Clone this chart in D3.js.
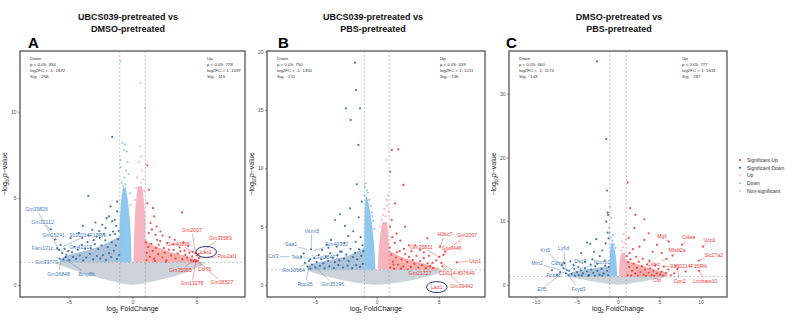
<!DOCTYPE html>
<html>
<head>
<meta charset="utf-8">
<script src="https://cdn.jsdelivr.net/npm/d3@7"></script>
<style>
  body { margin: 0; background: #fff; }
  text { font-family: "Liberation Sans", Arial, sans-serif; }
</style>
</head>
<body>
<svg id="chart" width="794" height="325"></svg>
<script>
// ---- data ----
// points are [log2FC, -log10 p]; envelopes are [x, yLow, yHigh]; bands are [y, xLeft, xRight]

const titlesA = ["UBCS039-pretreated vs", "DMSO-pretreated"];
const titlesB = ["UBCS039-pretreated vs", "PBS-pretreated"];
const titlesC = ["DMSO-pretreated vs", "PBS-pretreated"];

const countsA = { down: [934, 1672, 268], up: [778, 1097, 115] };
const countsB = { down: [750, 1301, 211], up: [539, 1211, 136] };
const countsC = { down: [660, 1174, 143], up: [777, 1631, 287] };

const xTicksA = [-5, 0, 5], yTicksA = [0, 5, 10];
const xTicksB = [-5, 0, 5], yTicksB = [0, 5, 10, 15, 20];
const xTicksC = [-10, -5, 0, 5, 10], yTicksC = [0, 10, 20, 30];

const legendItems = ["Significant Up", "Significant Down", "Up", "Down", "Non-significant"];

// panel A
const nsA = [[-5.9,1.2,1.3],[-5,0.95,1.3],[-4,0.72,1.3],[-3,0.48,1.3],[-2,0.28,1.3],[-1,0.1,1.3],[0,-0.05,1.3],
  [1,0.1,1.3],[2,0.26,1.3],[3,0.42,1.3],[4,0.66,1.3],[5,0.95,1.3],[5.6,1.2,1.3]];
const downBandA = [[1.3,-1,-0.08],[2.2,-1,-0.1],[3.2,-1,-0.15],[4.2,-0.97,-0.25],[5.0,-0.88,-0.38],[5.6,-0.75,-0.52]];
const upBandA = [[1.3,0.08,1],[2.2,0.1,1],[3.2,0.14,1],[4.2,0.2,0.97],[5.0,0.3,0.88],[5.7,0.42,0.76]];
const sigDownBandA = [[-5.6,1.3,1.5],[-5,1.3,1.75],[-4,1.3,1.9],[-3,1.3,2.1],[-2,1.3,2.4],[-1.3,1.3,2.7],[-1,1.3,2.8]];
const sigUpBandA = [[1,1.3,2.6],[1.5,1.3,2.3],[2.5,1.3,2.0],[3.5,1.3,1.8],[4.5,1.3,1.6],[5,1.3,1.45]];
const downPtsA = [[-0.8,8.2],[-0.6,8.1],[-0.65,7.8],[-0.45,7.7],[-0.95,7.2],[-0.5,6.6],[-0.65,6.2],[-0.3,6.4],
  [-0.94,12.9],[-0.85,5.9],[-0.2,5.3],[-0.92,6.8],[-0.38,7.1],[-0.72,5.7],[-0.15,4.6],[-0.55,5.8]];
const upPtsA = [[0.63,11.66],[0.98,10.2],[0.57,8.0],[0.5,7.1],[0.75,6.6],[0.35,6.2],[0.65,5.9],[0.55,5.5],
  [0.4,5.2],[0.85,6.1],[0.28,5.6],[0.92,5.4],[0.7,7.4],[0.2,4.9]];
const sigDownA = [[-1.59,8.54],[-3.46,5.14],[-1.2,4.8],[-1.72,4.53],[-1.21,4.24],[-1.85,3.95],[-2.37,3.47],[-2.1,3.28],
  [-1.59,3.66],[-3.88,3.41],[-2.03,3.85],[-4.19,2.99],[-3.93,2.7],[-3.15,3.18],[-2.81,2.79],[-4.84,2.7],[-5.63,2.31],
  [-5.89,2.12],[-5.5,1.83],[-5.23,1.6],[-6.4,3.2],[-6.05,2.62],[-5.75,2.02],[-1.08,3.12],[-1.27,3.41],[-1.36,2.93],
  [-1.52,3.08],[-1.77,2.88],[-2.24,2.95],[-2.56,2.71],[-3.04,2.58],[-1.13,2.64],[-1.31,2.27],[-1.46,1.97],[-1.62,2.46],
  [-1.94,2.18],[-2.13,2.57],[-2.42,2.28],[-2.68,2.06],[-2.95,2.35],[-3.27,2.12],[-3.52,2.47],[-3.71,2.09],[-3.97,2.31],
  [-4.28,2.03],[-4.55,2.21],[-4.73,1.88],[-5.02,1.95],[-5.31,2.08],[-1.04,1.72],[-1.22,1.49],[-1.67,1.61],[-1.83,1.83],
  [-2.07,1.44],[-2.31,1.71],[-2.52,1.52],[-2.79,1.66],[-3.08,1.47],[-3.33,1.78],[-3.62,1.58],[-3.86,1.41],[-4.12,1.69],
  [-4.41,1.5],[-4.66,1.62],[-4.94,1.43],[-5.17,1.74],[-5.42,1.47],[-5.7,1.52],[-2.9,3.6],[-2.6,3.1],[-3.45,2.85],[-1.4,3.75]];
const sigUpA = [[1.15,6.9],[1.28,5.49],[1.15,4.72],[1.6,4.43],[1.7,3.95],[3.88,4.18],[1.41,3.57],[1.27,2.99],[1.8,2.89],
  [1.88,3.37],[2.19,3.08],[2.71,2.41],[1.93,2.6],[2.05,2.31],[2.45,2.12],[3.23,2.02],[3.75,1.93],[4.14,1.73],[4.66,1.64],
  [4.92,1.83],[4.79,1.35],[5.05,1.7],[4.7,1.9],[5.15,1.78],[5.2,1.55],[4.85,1.45],[5.0,1.4],[4.95,1.35],[5.1,1.38],
  [1.06,2.45],[1.12,1.85],[1.22,2.18],[1.35,1.62],[1.47,2.37],[1.58,1.95],[1.69,1.51],[1.84,2.14],[2.01,1.77],[2.17,2.53],
  [2.33,1.58],[2.52,1.86],[2.66,1.42],[2.84,2.03],[3.02,1.69],[3.17,2.34],[3.36,1.52],[3.54,1.81],[3.69,2.16],[3.91,1.49],
  [4.07,1.98],[4.28,1.57],[4.44,1.86],[4.58,1.41],[3.3,2.6],[2.9,2.75],[2.35,2.85],[1.52,3.2],[4.35,2.25],[3.98,2.45],
  [1.1,1.42],[1.75,1.38],[2.6,1.33]];
// gene labels: [name, pointX, pointY, labelX, labelY]
const labelsDownA = [["Gm39826",-5.76,2.02,-7.5,4.39],["Gm32112",-6.4,3.2,-7.03,3.64],["Gm15241",-5.9,2.6,-6.17,2.89],
  ["9130214F15Rik",-5.45,2.2,-3.5,2.89],["Fam131c",-5.5,2.0,-7.03,2.14],["Gm42217",-5.3,1.9,-4.06,2.2],
  ["Gm33770",-5.8,1.6,-6.72,1.33],["Gm36848",-5.6,1.5,-5.78,0.64],["Bmp8b",-5.2,1.45,-3.59,0.64]];
const labelsUpA = [["Gm2007",4.92,1.83,4.66,3.14],["Gm33583",5.05,1.7,6.88,2.72],["Gm40895",4.7,1.9,3.6,2.37],
  ["Lao1",5.15,1.78,5.76,1.89],["Pou2af1",5.2,1.55,7.4,1.64],["Gm35955",4.85,1.45,3.75,0.87],
  ["Col79",5.0,1.4,5.63,0.91],["Gm13278",4.95,1.35,4.66,0.1],["Gm36527",5.1,1.38,7.0,0.13]];

// panel B
const nsB = [[-5.5,1.22,1.3],[-5,1.0,1.3],[-4,0.72,1.3],[-3,0.45,1.3],[-2,0.25,1.3],[-1,0.1,1.3],[0,-0.05,1.3],
  [1,0.1,1.3],[2,0.25,1.3],[3,0.45,1.3],[4,0.7,1.3],[5,1.0,1.3],[5.4,1.22,1.3]];
const downBandB = [[1.3,-1,-0.1],[3,-1,-0.18],[4.5,-1,-0.3],[5.8,-0.98,-0.45],[6.8,-0.95,-0.62],[7.6,-0.9,-0.78]];
const upBandB = [[1.3,0.1,1],[2.5,0.12,1],[3.5,0.2,0.98],[4.5,0.3,0.92],[5.4,0.45,0.82]];
const sigDownBandB = [[-5.6,1.3,1.6],[-5,1.3,1.9],[-4,1.3,2.1],[-3,1.3,2.3],[-2,1.3,2.6],[-1.3,1.3,3.0],[-1,1.3,3.2]];
const sigUpBandB = [[1,1.3,3.0],[1.5,1.3,2.6],[2.5,1.3,2.2],[3.5,1.3,1.9],[4.5,1.3,1.6],[5,1.3,1.45]];
const downPtsB = [[-0.95,8.4],[-0.8,8.1],[-0.7,7.9],[-0.88,8.7],[-0.6,7.3],[-0.5,6.8],[-0.4,6.2],[-0.3,5.5],[-0.2,4.8],
  [-0.98,7.7],[-0.35,5.9]];
const upPtsB = [[0.75,10.7],[0.9,7.7],[0.8,7.3],[0.6,6.5],[0.5,6.0],[0.85,6.8],[0.4,5.6],[0.7,5.9],[0.3,5.0],[0.95,6.3]];
const sigDownB = [[-1.75,19.05],[-1.67,16.7],[-2.48,15.14],[-1.35,15.14],[-2.1,14.14],[-1.48,12.0],[-1.61,8.63],
  [-2.15,6.57],[-2.96,6.06],[-3.36,5.57],[-2.56,5.06],[-1.21,7.14],[-3.69,3.86],[-4.03,3.43],[-3.23,3.28],[-2.96,2.86],
  [-5.3,3.06],[-5.36,2.2],[-1.45,5.8],[-1.9,4.6],[-1.3,4.1],[-2.3,4.2],[-1.7,3.7],[-2.6,3.6],[-1.15,3.4],[-1.08,2.9],
  [-1.25,2.5],[-1.42,3.05],[-1.58,2.2],[-1.74,2.75],[-1.93,2.4],[-2.12,3.1],[-2.27,2.05],[-2.46,2.6],[-2.64,2.25],
  [-2.83,2.85],[-3.01,2.1],[-3.18,2.55],[-3.37,1.95],[-3.55,2.35],[-3.74,2.7],[-3.92,2.05],[-4.11,2.4],[-4.3,1.85],
  [-4.48,2.2],[-4.67,2.55],[-4.85,1.95],[-5.04,2.3],[-5.22,1.75],[-5.45,2.05],[-5.6,1.6],[-1.12,1.8],[-1.35,1.55],
  [-1.66,1.7],[-1.98,1.45],[-2.35,1.65],[-2.72,1.5],[-3.1,1.7],[-3.46,1.45],[-3.83,1.6],[-4.2,1.42],[-4.58,1.62],
  [-4.95,1.48],[-5.35,1.4],[-5.8,1.9],[-6.1,2.4],[-5.9,2.7],[-4.4,3.0],[-3.9,3.2]];
const sigUpB = [[1.21,11.57],[1.74,11.63],[1.07,9.71],[2.15,8.57],[1.48,7.0],[2.28,5.0],[1.07,5.0],[1.21,5.57],[4.08,4.0],
  [5.1,3.28],[5.5,2.86],[5.37,2.57],[6.45,1.94],[5.05,2.4],[4.5,1.9],[5.2,1.9],[4.8,2.1],[4.2,2.5],[3.1,3.4],[2.6,3.4],
  [3.5,3.0],[1.05,3.2],[1.18,2.6],[1.3,2.0],[1.45,3.6],[1.55,2.35],[1.7,1.75],[1.85,2.9],[2.0,2.2],[2.15,1.6],[2.3,2.65],
  [2.45,1.95],[2.6,2.4],[2.75,1.55],[2.9,2.15],[3.05,1.8],[3.2,2.5],[3.35,1.5],[3.5,2.05],[3.65,1.7],[3.8,2.3],[3.95,1.45],
  [4.1,1.85],[4.3,1.6],[4.55,1.45],[1.1,1.5],[1.4,1.4],[1.95,1.4],[2.5,1.35],[1.25,4.1],[1.6,4.4],[1.9,3.8],[1.35,1.75],
  [1.62,2.8],[2.2,3.1],[2.8,2.9],[3.8,2.8],[5.3,1.6]];
const labelsDownB = [["Vstm5",-5.3,3.06,-5.24,4.63],["Saa1",-5.6,3.0,-6.91,3.49],["Gm40302",-5.1,2.95,-3.23,3.49],
  ["Col3",-7.0,2.42,-8.34,2.43],["Tsk1",-5.45,2.3,-6.45,2.37],["Gm28477",-5.25,2.5,-4.03,2.37],
  ["Gm10584",-5.6,1.9,-6.72,1.23],["Rpp25",-5.4,1.75,-5.78,0.09],["Gm35196",-5.1,1.7,-3.55,0.09]];
const labelsUpB = [["H2bc7",5.1,3.28,5.5,4.37],["Gm2007",5.5,2.86,7.3,4.28],["Gm35811",5.05,2.4,3.6,3.28],
  ["Gm3446",5.37,2.57,6.05,3.14],["Ucp1",6.45,1.94,7.93,2.08],["Gm21727",4.5,1.9,3.49,1.0],
  ["CDC14-897649",5.2,1.9,6.45,1.0],["Gm39442",5.3,1.6,6.85,-0.14],["Lao1",null,null,4.84,-0.2]];

// panel C
const nsC = [[-5.5,1.15,1.3],[-4,0.8,1.3],[-2,0.3,1.3],[0,-0.1,1.3],[2,0.3,1.3],[4,0.8,1.3],[5.5,1.15,1.3]];
const downBandC = [[1.3,-1,-0.1],[3,-1,-0.15],[4.5,-0.98,-0.25],[5.5,-0.95,-0.4],[6.5,-0.9,-0.6]];
const upBandC = [[1.3,0.1,1],[2.5,0.12,1],[3.8,0.22,0.95],[5.0,0.4,0.85]];
const sigDownBandC = [[-6,1.3,1.8],[-5,1.3,2.2],[-4,1.3,2.4],[-3,1.3,2.6],[-2,1.3,2.8],[-1,1.3,3.0]];
const sigUpBandC = [[1,1.3,3.8],[2,1.3,3.4],[3,1.3,3.0],[4,1.3,2.6],[5,1.3,2.2],[6,1.3,1.8]];
const downPtsC = [[-1.0,8.1],[-0.9,7.4],[-0.7,6.9],[-0.5,6.4],[-1.05,9.0],[-0.8,10.5],[-0.6,7.8],[-0.3,5.8],[-0.95,12.3]];
const upPtsC = [[0.8,6.5],[0.6,5.9],[0.95,7.2],[0.4,5.4],[0.7,8.0],[0.9,9.5],[0.5,6.8]];
const sigDownC = [[-2.55,35.06],[-1.42,22.87],[-1.33,14.8],[-1.26,11.35],[-1.2,11.0],[-1.42,9.94],[-3.76,6.64],
  [-3.36,6.44],[-2.63,7.17],[-4.45,4.97],[-2.9,5.2],[-1.9,5.4],[-5.78,3.66],[-5.4,3.14],[-6.8,3.1],[-6.2,2.3],[-1.25,8.2],
  [-1.15,7.3],[-1.5,6.5],[-2.2,4.5],[-3.1,4.0],[-4.0,3.6],[-2.5,3.3],[-1.6,3.8],[-1.1,2.8],[-1.3,2.2],[-1.55,3.0],
  [-1.75,1.8],[-2.0,2.5],[-2.25,1.6],[-2.5,2.2],[-2.75,2.9],[-3.0,1.9],[-3.25,2.4],[-3.5,1.55],[-3.75,2.1],[-4.0,2.6],
  [-4.25,1.8],[-4.5,2.3],[-4.75,1.5],[-5.0,2.0],[-5.3,2.5],[-5.6,1.7],[-5.9,2.2],[-6.3,1.8],[-6.6,2.6],[-7.0,2.0],
  [-1.2,1.5],[-1.9,1.4],[-2.8,1.45],[-3.6,1.4],[-4.4,1.45],[-5.2,1.4],[-6.0,1.5],[-7.4,1.6],[-8.0,2.3],[-6.5,3.4],
  [-4.8,2.8],[-3.3,3.2]];
const sigUpC = [[1.17,16.06],[1.49,12.04],[2.1,11.0],[3.19,10.3],[1.98,8.9],[3.71,8.1],[3.19,7.06],[4.72,6.28],[6.14,6.8],
  [7.76,6.28],[10.3,6.0],[9.77,3.82],[5.53,2.87],[7.0,3.0],[9.8,2.2],[1.3,7.4],[2.6,6.0],[1.8,5.6],[4.2,5.2],[5.3,5.0],
  [6.6,4.6],[5.9,4.1],[7.2,2.5],[8.2,2.1],[6.8,1.8],[1.05,4.5],[1.2,3.6],[1.35,2.8],[1.5,4.0],[1.7,2.2],[1.9,3.3],[2.1,1.8],
  [2.3,2.7],[2.5,3.6],[2.7,2.0],[2.9,2.9],[3.1,1.6],[3.3,2.4],[3.5,3.2],[3.7,1.9],[3.9,2.6],[4.1,1.5],[4.3,2.2],[4.5,3.0],
  [4.7,1.8],[4.9,2.5],[5.1,1.6],[5.3,2.1],[5.5,1.45],[5.8,1.9],[6.1,2.4],[6.4,1.5],[1.15,1.5],[1.6,1.45],[2.4,1.4],
  [3.4,1.4],[4.4,1.4],[1.4,5.0],[2.2,4.4],[3.0,4.1],[3.8,3.8]];
const labelsDownC = [["Krt5",-6.6,2.6,-8.8,5.5],["Ly6d",-6.3,2.5,-6.6,5.76],["Mirt2",-6.9,2.3,-9.8,3.4],
  ["Cldn4",-6.2,2.3,-7.3,3.4],["Dsg3",-6.0,2.2,-4.57,3.72],["Nccrp1",-4.9,2.4,-1.94,3.56],
  ["Foxa1",-6.5,2.0,-7.8,1.46],["Elf5",-6.8,1.9,-9.2,-0.68],["Fxyd3",-6.2,1.8,-4.78,-0.63]];
const labelsUpC = [["Mgll",6.14,6.8,5.33,7.7],["Cidea",7.76,6.28,8.56,7.5],["Ucp1",10.3,6.0,11.1,7.06],
  ["Mfsd2a",6.6,4.6,7.15,5.39],["Slc27a2",9.77,3.82,11.6,4.71],["Cidec",5.9,4.1,4.32,3.3],
  ["9130214F15Rik",5.53,2.87,8.56,2.98],["Cfd",5.3,2.1,4.72,0.78],["Cpn2",7.2,2.5,7.47,0.63],
  ["Lncbate10",9.8,2.2,10.58,0.63]];

// ---- drawing ----
const COL = {
  sigUp: "#ee3a36", sigDown: "#2f6aa3", up: "#f6b3c0", down: "#8ec8ef", ns: "#cdd3da",
  labUp: "#ef3b3b", labDown: "#4b80b9", grid: "#9d9d9d", frame: "#555", circle: "#2b3b8f"
};
const svg = d3.select("#chart");

const panels = [
  { box: [20, 51, 245, 297], xd: [-8.8, 8.8], yd: [-0.7, 13.5], xt: xTicksA, yt: yTicksA, title: titlesA, tx: 128,
    letter: "A", lx: 28, noteR: 207, counts: countsA, ns: nsA, downBand: downBandA, upBand: upBandA,
    sdBand: sigDownBandA, suBand: sigUpBandA, downPts: downPtsA, upPts: upPtsA, sigDown: sigDownA, sigUp: sigUpA,
    labDown: labelsDownA, labUp: labelsUpA, circled: "Lao1" },
  { box: [267, 51, 485, 297], xd: [-8.85, 8.73], yd: [-1.03, 20.05], xt: xTicksB, yt: yTicksB, title: titlesB, tx: 373,
    letter: "B", lx: 278, noteR: 440, counts: countsB, ns: nsB, downBand: downBandB, upBand: upBandB,
    sdBand: sigDownBandB, suBand: sigUpBandB, downPts: downPtsB, upPts: upPtsB, sigDown: sigDownB, sigUp: sigUpB,
    labDown: labelsDownB, labUp: labelsUpB, circled: "Lao1" },
  { box: [509, 51, 727, 297], xd: [-13.2, 13.2], yd: [-1.9, 36.7], xt: xTicksC, yt: yTicksC, title: titlesC, tx: 619,
    letter: "C", lx: 506, noteR: 682, counts: countsC, ns: nsC, downBand: downBandC, upBand: upBandC,
    sdBand: sigDownBandC, suBand: sigUpBandC, downPts: downPtsC, upPts: upPtsC, sigDown: sigDownC, sigUp: sigUpC,
    labDown: labelsDownC, labUp: labelsUpC, circled: null }
];

panels.forEach((p, i) => {
  const [L, T, R, B] = p.box;
  const x = d3.scaleLinear().domain(p.xd).range([L, R]);
  const y = d3.scaleLinear().domain(p.yd).range([B, T]);
  const g = svg.append("g");

  // titles
  p.title.forEach((t, k) => {
    g.append("text").attr("x", p.tx).attr("y", 20 + k * 12).attr("text-anchor", "middle")
      .attr("font-size", 9).attr("font-weight", "bold").attr("fill", "#111").text(t);
  });
  g.append("text").attr("x", p.lx).attr("y", 48).attr("font-size", 15).attr("font-weight", "bold")
    .attr("fill", "#000").text(p.letter);

  g.append("clipPath").attr("id", "clip" + i).append("rect")
    .attr("x", L).attr("y", T).attr("width", R - L).attr("height", B - T);
  const plot = g.append("g").attr("clip-path", `url(#clip${i})`);

  // dense areas
  const hArea = d3.area().curve(d3.curveBasis).x(d => x(d[0])).y0(d => y(d[1])).y1(d => y(d[2]));
  const vArea = d3.area().curve(d3.curveBasis).y(d => y(d[0])).x0(d => x(d[1])).x1(d => x(d[2]));
  plot.append("path").attr("d", hArea(p.ns)).attr("fill", COL.ns);
  plot.append("path").attr("d", vArea(p.downBand)).attr("fill", COL.down);
  plot.append("path").attr("d", vArea(p.upBand)).attr("fill", COL.up);
  plot.append("path").attr("d", hArea(p.sdBand)).attr("fill", COL.sigDown).attr("opacity", 0.4);
  plot.append("path").attr("d", hArea(p.suBand)).attr("fill", COL.sigUp).attr("opacity", 0.4);

  const dots = (data, color) => plot.append("g").selectAll("circle").data(data).join("circle")
    .attr("cx", d => x(d[0])).attr("cy", d => y(d[1])).attr("r", 1.1).attr("fill", color).attr("opacity", 0.9);
  dots(p.downPts, COL.down);
  dots(p.upPts, COL.up);
  dots(p.sigDown, COL.sigDown);
  dots(p.sigUp, COL.sigUp);

  // threshold lines
  const dash = (x1, y1, x2, y2) => plot.append("line").attr("x1", x1).attr("y1", y1).attr("x2", x2).attr("y2", y2)
    .attr("stroke", COL.grid).attr("stroke-width", 0.6).attr("stroke-dasharray", "2,2");
  dash(x(-1), T, x(-1), B);
  dash(x(1), T, x(1), B);
  dash(L, y(1.3), R, y(1.3));

  // gene labels with leader lines
  const lab = (list, color) => list.forEach(d => {
    const [name, px, py, lx, ly] = d;
    const t = plot.append("text").attr("x", x(lx)).attr("y", y(ly)).attr("dy", "0.35em")
      .attr("text-anchor", "middle").attr("font-size", 5.2).attr("fill", color).text(name);
    const bb = t.node().getBBox();
    if (px !== null) {
      const cx = x(lx), cy = y(ly), ex = x(px), ey = y(py);
      const dx = ex - cx, dy = ey - cy;
      const tx = dx === 0 ? Infinity : (bb.width / 2 + 1) / Math.abs(dx);
      const ty = dy === 0 ? Infinity : (bb.height / 2 + 0.5) / Math.abs(dy);
      const tt = Math.min(tx, ty);
      if (tt < 1) {
        plot.insert("line", "text").attr("x1", cx + dx * tt).attr("y1", cy + dy * tt).attr("x2", ex).attr("y2", ey)
          .attr("stroke", color).attr("stroke-width", 0.45);
      }
    }
    if (name === p.circled) {
      plot.append("ellipse").attr("cx", bb.x + bb.width / 2).attr("cy", bb.y + bb.height / 2)
        .attr("rx", bb.width / 2 + 4.5).attr("ry", bb.height / 2 + 2.5)
        .attr("fill", "none").attr("stroke", COL.circle).attr("stroke-width", 1);
    }
  });
  lab(p.labDown, COL.labDown);
  lab(p.labUp, COL.labUp);

  // count annotations
  const note = (x0, lines) => lines.forEach((s, k) => {
    g.append("text").attr("x", x0).attr("y", 60 + k * 6).attr("font-size", 4.4).attr("fill", "#333").text(s);
  });
  note(L + 10, ["Down", `p < 0.05: ${p.counts.down[0]}`, `log2FC < -1: ${p.counts.down[1]}`, `Sig. : ${p.counts.down[2]}`]);
  note(p.noteR, ["Up", `p < 0.05: ${p.counts.up[0]}`, `log2FC > 1: ${p.counts.up[1]}`, `Sig. : ${p.counts.up[2]}`]);

  // frame and axes
  g.append("rect").attr("x", L).attr("y", T).attr("width", R - L).attr("height", B - T)
    .attr("fill", "none").attr("stroke", COL.frame).attr("stroke-width", 1.3);
  const ax = g.append("g").attr("transform", `translate(0,${B})`)
    .call(d3.axisBottom(x).tickValues(p.xt).tickSize(2).tickPadding(1.5));
  const ay = g.append("g").attr("transform", `translate(${L},0)`)
    .call(d3.axisLeft(y).tickValues(p.yt).tickSize(2).tickPadding(1.5));
  [ax, ay].forEach(a => {
    a.select(".domain").remove();
    a.selectAll("line").attr("stroke", "#444").attr("stroke-width", 0.6);
    a.selectAll("text").attr("font-size", 5).attr("fill", "#4d4d4d").attr("font-family", "Liberation Sans, Arial, sans-serif");
  });

  const xt = g.append("text").attr("x", (L + R) / 2).attr("y", 311).attr("text-anchor", "middle")
    .attr("font-size", 7).attr("fill", "#222");
  xt.append("tspan").text("log");
  xt.append("tspan").attr("font-size", 4.5).attr("dy", 1.8).text("2");
  xt.append("tspan").attr("dy", -1.8).text(" FoldChange");

  const yx = L - 13, yc = (T + B) / 2;
  const yt = g.append("text").attr("transform", `translate(${yx},${yc}) rotate(-90)`).attr("text-anchor", "middle")
    .attr("font-size", 7).attr("fill", "#222");
  yt.append("tspan").text("\u2212log");
  yt.append("tspan").attr("font-size", 4.5).attr("dy", 1.8).text("10");
  yt.append("tspan").attr("dy", -1.8).attr("font-style", "italic").text("p");
  yt.append("tspan").text("\u2212value");
});

// legend
const legColors = [COL.sigUp, COL.sigDown, COL.up, COL.down, COL.ns];
const ly = d3.scalePoint().domain(legendItems).range([160, 191]);
const leg = svg.append("g");
leg.selectAll("circle").data(legendItems).join("circle")
  .attr("cx", 740).attr("cy", d => ly(d)).attr("r", 1.1).attr("fill", (d, i) => legColors[i]);
leg.selectAll("text").data(legendItems).join("text")
  .attr("x", 747).attr("y", d => ly(d)).attr("dy", "0.35em").attr("font-size", 5).attr("fill", "#333").text(d => d);
</script>
</body>
</html>
